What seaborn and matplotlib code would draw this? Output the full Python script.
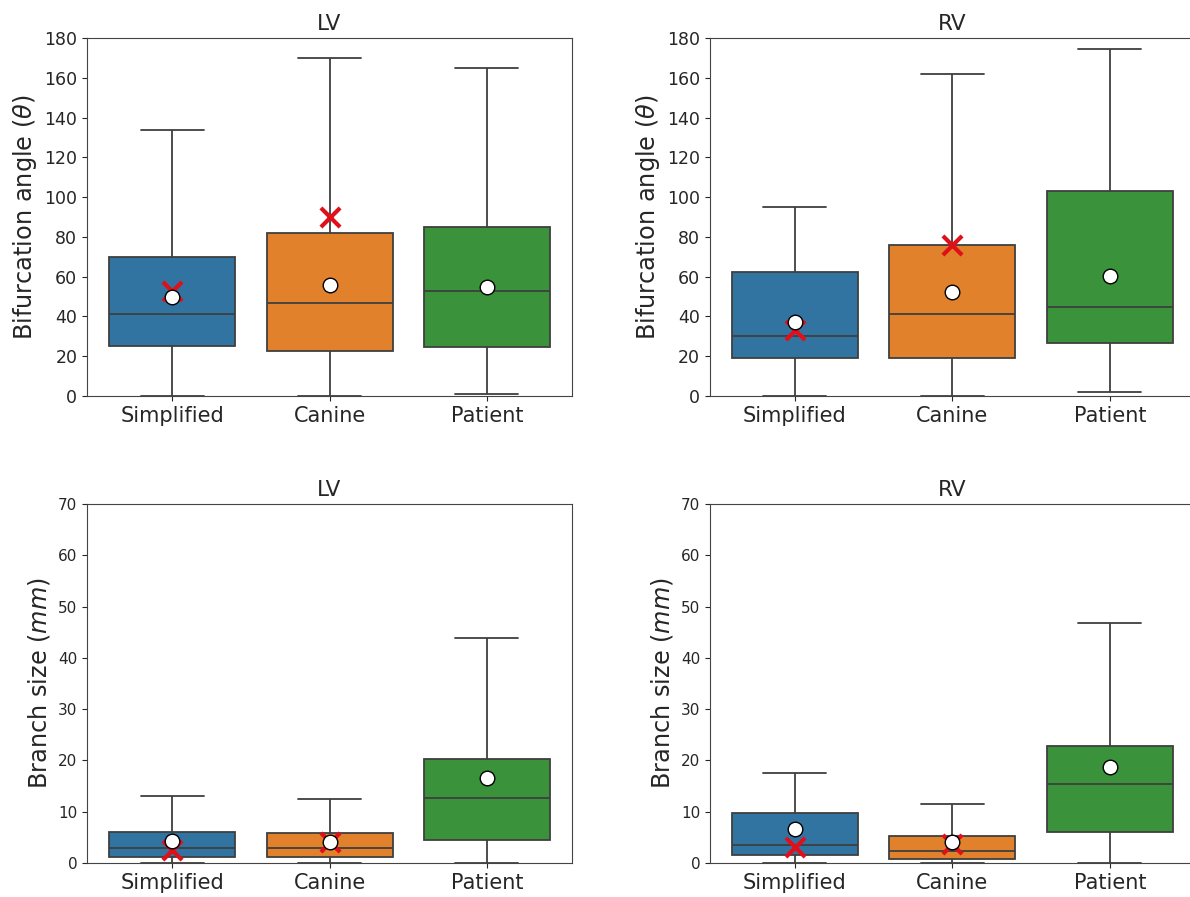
import numpy as np
import pandas as pd
import seaborn as sns
import matplotlib
matplotlib.use("Agg")
import matplotlib.pyplot as plt

CATEGORIES = ["Simplified", "Canine", "Patient"]
PALETTE = ["#1f77b4", "#ff7f0e", "#2ca02c"]
LINE_COLOR = "#3f3f3f"

# five-number summaries: min, q1, median, q3, max
ANGLE_LV = {
    "Simplified": [0, 25, 41, 70, 134],
    "Canine": [0, 22.5, 47, 82, 170],
    "Patient": [1, 24.5, 53, 85, 165],
}
ANGLE_LV_MEAN = [50, 56, 55]
ANGLE_LV_REF = [53, 90, np.nan]

ANGLE_RV = {
    "Simplified": [0, 19, 30, 62.5, 95],
    "Canine": [0, 19, 41, 76, 162],
    "Patient": [2, 26.5, 45, 103, 174.5],
}
ANGLE_RV_MEAN = [37, 52.5, 60.5]
ANGLE_RV_REF = [33, 76, np.nan]

SIZE_LV = {
    "Simplified": [0, 1.2, 3.0, 6.0, 13.0],
    "Canine": [0, 1.1, 3.0, 5.8, 12.5],
    "Patient": [0, 4.5, 12.7, 20.3, 43.8],
}
SIZE_LV_MEAN = [4.3, 4.1, 16.5]
SIZE_LV_REF = [2.5, 4.0, np.nan]

SIZE_RV = {
    "Simplified": [0, 1.6, 3.6, 9.7, 17.5],
    "Canine": [0, 0.8, 2.3, 5.3, 11.6],
    "Patient": [0, 6.0, 15.5, 22.8, 46.8],
}
SIZE_RV_MEAN = [6.6, 4.0, 18.7]
SIZE_RV_REF = [3.2, 3.8, np.nan]


def to_frame(summary):
    rows = [(cat, v) for cat in CATEGORIES for v in summary[cat]]
    return pd.DataFrame(rows, columns=["group", "value"])


def panel(ax, summary, means, refs, title, ylabel, ymax, ystep, tick_size):
    df = to_frame(summary)
    sns.boxplot(data=df, x="group", y="value", hue="group", order=CATEGORIES,
                palette=PALETTE, whis=(0, 100), showfliers=False, width=0.8,
                linecolor=LINE_COLOR, linewidth=1.3, legend=False, ax=ax)
    ax.scatter(np.arange(len(CATEGORIES)), refs, marker="x", color="#e0101a",
               s=190, linewidths=3, zorder=5)
    ax.scatter(np.arange(len(CATEGORIES)), means, marker="o", facecolor="white",
               edgecolor="black", s=110, linewidths=1.0, zorder=6)
    ax.set_ylim(0, ymax)
    ax.set_yticks(np.arange(0, ymax + 1, ystep))
    ax.set_title(title, fontsize=15.5)
    ax.set_xlabel("")
    ax.set_ylabel(ylabel, fontsize=17.3)
    ax.tick_params(axis="x", labelsize=15)
    ax.tick_params(axis="y", labelsize=tick_size)
    for s in ax.spines.values():
        s.set_color("#444444")


sns.set_style("ticks")
plt.rcParams["font.family"] = ["DejaVu Sans"]

fig = plt.figure(figsize=(11.9, 8.97), dpi=100)
w, h = 0.4076, 0.3991
ax_tl = fig.add_axes([0.0731, 0.5585, w, h])
ax_tr = fig.add_axes([0.5966, 0.5585, w, h])
ax_bl = fig.add_axes([0.0731, 0.0379, w, 0.4002])
ax_br = fig.add_axes([0.5966, 0.0379, w, 0.4002])

panel(ax_tl, ANGLE_LV, ANGLE_LV_MEAN, ANGLE_LV_REF, "LV",
      r"Bifurcation angle ($\theta$)", 180, 20, 12.5)
panel(ax_tr, ANGLE_RV, ANGLE_RV_MEAN, ANGLE_RV_REF, "RV",
      r"Bifurcation angle ($\theta$)", 180, 20, 12.5)
panel(ax_bl, SIZE_LV, SIZE_LV_MEAN, SIZE_LV_REF, "LV",
      r"Branch size ($mm$)", 70, 10, 11)
panel(ax_br, SIZE_RV, SIZE_RV_MEAN, SIZE_RV_REF, "RV",
      r"Branch size ($mm$)", 70, 10, 11)

fig.savefig("out.png", dpi=100)
